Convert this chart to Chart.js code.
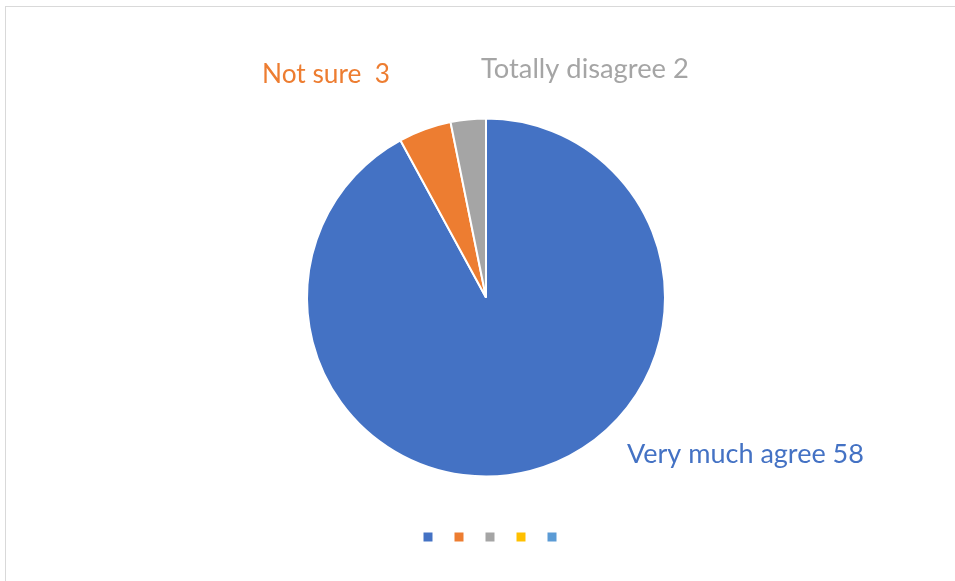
<!DOCTYPE html>
<html>
<head>
<meta charset="utf-8">
<script src="https://cdn.jsdelivr.net/npm/chart.js@4"></script>
<style>
html,body{margin:0;padding:0;background:#fff;}
#wrap{position:relative;width:955px;height:581px;overflow:hidden;}
#frame{position:absolute;left:5px;top:6px;width:980px;height:600px;border:1px solid #d9d9d9;border-right:none;border-bottom:none;box-sizing:border-box;}
canvas{position:absolute;left:0;top:0;}
</style>
</head>
<body>
<div id="wrap"><div id="frame"></div><canvas id="c" width="955" height="581"></canvas></div>
<script>
const categories = ['Very much agree', 'Not sure ', 'Totally disagree', 'Series 4', 'Series 5'];
const values = [58, 3, 2, 0, 0];
const colors = ['#4472C4', '#ED7D31', '#A5A5A5', '#FFC000', '#5B9BD5'];

// label placement relative to pie centre (text left, baseline)
const labelOffsets = [[141, 165], [-224, -215], [-5, -220]];
const labelWidths = [237, 128, 208];

const labelPlugin = {
  id: 'sliceLabels',
  afterLayout(chart) {
    if (chart.legend) { chart.legend.left += 7; chart.legend.right += 7; }
  },
  afterDatasetsDraw(chart) {
    const meta = chart.getDatasetMeta(0);
    const ctx = chart.ctx;
    ctx.save();
    ctx.textAlign = 'left';
    ctx.textBaseline = 'alphabetic';
    meta.data.forEach((arc, i) => {
      if (!values[i] || !labelOffsets[i]) return;
      const txt = categories[i] + ' ' + values[i];
      let size = 24;
      ctx.font = size + 'px Lato';
      const w = ctx.measureText(txt).width;
      size = size * labelWidths[i] / w;
      ctx.font = size + 'px Lato';
      ctx.fillStyle = colors[i];
      ctx.fillText(txt, arc.x + labelOffsets[i][0], arc.y + labelOffsets[i][1]);
    });
    ctx.restore();
  }
};

new Chart(document.getElementById('c'), {
  type: 'pie',
  data: {
    labels: categories,
    datasets: [{
      data: values,
      backgroundColor: colors,
      borderColor: '#ffffff',
      borderWidth: 2
    }]
  },
  options: {
    responsive: false,
    animation: false,
    layout: { padding: { left: 306, right: 289, top: 80, bottom: 28 } },
    plugins: {
      tooltip: { enabled: false },
      legend: {
        position: 'bottom',
        labels: {
          boxWidth: 9,
          boxHeight: 9,
          padding: 16,
          font: { size: 12 },
          generateLabels(chart) {
            return values.map((v, i) => ({
              text: '',
              fillStyle: colors[i],
              strokeStyle: colors[i],
              lineWidth: 0,
              hidden: false,
              index: i
            }));
          }
        }
      }
    }
  },
  plugins: [labelPlugin]
});
</script>
</body>
</html>
